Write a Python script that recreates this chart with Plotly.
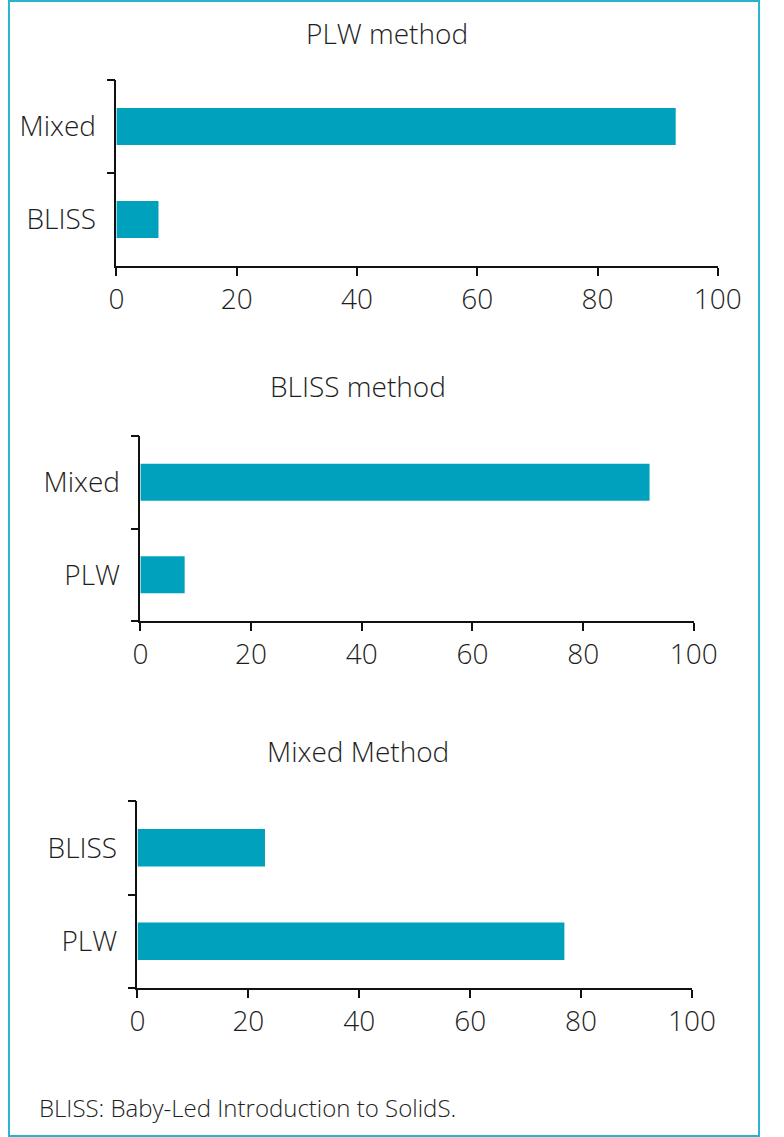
import plotly.graph_objects as go

# Data
titles = ["PLW method", "BLISS method", "Mixed Method"]
cats_plw = ["BLISS", "Mixed"]
vals_plw = [7, 93]
cats_bliss = ["PLW", "Mixed"]
vals_bliss = [8, 92]
cats_mixed = ["PLW", "BLISS"]
vals_mixed = [77, 23]
x_ticks = [0, 20, 40, 60, 80, 100]
footnote = "BLISS: Baby-Led Introduction to SolidS."

W, H = 784, 1137
BAR = "#00a1bc"
BORDER = "#29b4cb"
TXT = "#1e1e1e"
FONT = "Open Sans"
FS = 28

panels = [
    dict(cats=cats_plw, vals=vals_plw, x=(113, 740), y=(80, 266), title_xy=(395, 33)),
    dict(cats=cats_bliss, vals=vals_bliss, x=(138, 715), y=(436, 621), title_xy=(365, 386)),
    dict(cats=cats_mixed, vals=vals_mixed, x=(135, 713), y=(801, 988), title_xy=(365, 751)),
]

fig = go.Figure()
layout = dict(
    width=W, height=H, autosize=False,
    margin=dict(l=0, r=0, t=0, b=0),
    paper_bgcolor="white", plot_bgcolor="white",
    showlegend=False,
    font=dict(family=FONT, size=FS, color=TXT, weight=300),
    bargap=0.6,
)
annotations = []
for i, p in enumerate(panels):
    n = "" if i == 0 else str(i + 1)
    fig.add_trace(go.Bar(
        x=p["vals"], y=p["cats"], orientation="h",
        marker=dict(color=BAR, line=dict(width=0)),
        xaxis="x" + n, yaxis="y" + n, hoverinfo="x+y",
    ))
    x0, x1 = p["x"]
    ytop, ybot = p["y"]
    layout["xaxis" + n] = dict(
        domain=[x0 / W, x1 / W], range=[0, 100], anchor="y" + n,
        tickvals=x_ticks, ticks="outside", ticklen=8, tickwidth=1.5, tickcolor="#111",
        showline=True, linecolor="#111", linewidth=1.5, showgrid=False, zeroline=False,
        ticklabelstandoff=0, tickfont=dict(size=FS, color=TXT, family=FONT, weight=300),
    )
    layout["yaxis" + n] = dict(
        domain=[(H - ybot) / H, (H - ytop) / H], anchor="x" + n,
        type="category", categoryorder="array", categoryarray=p["cats"],
        tickson="boundaries", ticks="outside", ticklen=8, tickwidth=1.5, tickcolor="#111",
        showline=True, linecolor="#111", linewidth=1.5, showgrid=False, zeroline=False,
        ticklabelstandoff=13, tickfont=dict(size=FS, color=TXT, family=FONT, weight=300),
    )
    tx, ty = p["title_xy"]
    annotations.append(dict(
        text=titles[i], x=tx / W, y=1 - ty / H, xref="paper", yref="paper",
        xanchor="center", yanchor="middle", showarrow=False,
        font=dict(size=FS, color=TXT, family=FONT, weight=300),
    ))

annotations.append(dict(
    text=footnote, x=30 / W, y=1 - 1107 / H, xref="paper", yref="paper",
    xanchor="left", yanchor="middle", showarrow=False,
    font=dict(size=24, color=TXT, family=FONT, weight=300),
))
layout["annotations"] = annotations
layout["shapes"] = [dict(
    type="rect", xref="paper", yref="paper",
    x0=1 / W, x1=1 - 1 / W, y0=1 / H, y1=1 - 1 / H,
    line=dict(color=BORDER, width=2), fillcolor="rgba(0,0,0,0)", layer="above",
)]
fig.update_layout(**layout)
fig.write_html(
    "out.html",
    config={"displayModeBar": False, "responsive": False},
    default_width="784px",
    default_height="1137px",
    post_script=(
        "document.documentElement.style.margin='0px';"
        "document.documentElement.style.overflow='hidden';"
        "document.body.style.margin='0px';"
        "document.body.style.overflow='hidden';"
    ),
)
